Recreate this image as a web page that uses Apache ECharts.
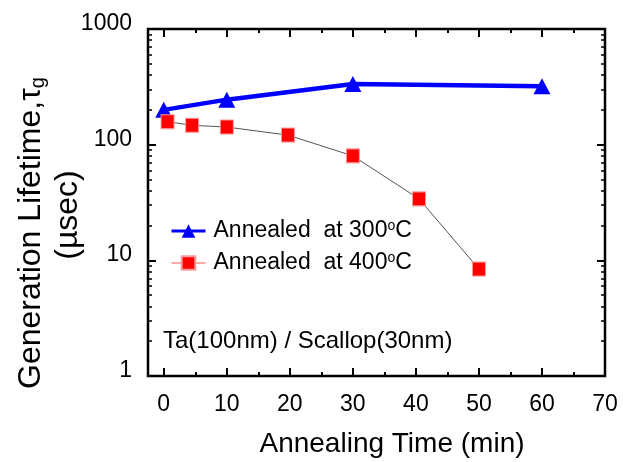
<!DOCTYPE html>
<html>
<head>
<meta charset="utf-8">
<title>Generation lifetime vs annealing time</title>
<script src="https://cdn.jsdelivr.net/npm/echarts@6/dist/echarts.min.js"></script>
<style>
  html, body { margin: 0; padding: 0; background: #fff; }
  #chart { width: 623px; height: 462px; }
</style>
</head>
<body>
<div id="chart"></div>
<script>
// Annealing time (min) and generation lifetime (µsec) for each anneal temperature
const time300 = [0, 10, 30, 60];
const life300 = [200, 245, 335, 320];
const time400 = [0.6, 4.5, 10, 19.7, 30, 40.5, 50];
const life400 = [158, 147, 142, 121, 80, 34, 8.4];

const seriesNames = ['Annealed at 300°C', 'Annealed at 400°C'];

// Axis ticks
const xMajorTicks = [0, 10, 20, 30, 40, 50, 60, 70];
const xMinorTicks = [5, 15, 25, 35, 45, 55, 65];
const yMinorTicks = [2, 3, 4, 5, 6, 7, 8, 9, 20, 30, 40, 50, 60, 70, 80, 90, 200, 300, 400, 500, 600, 700, 800, 900];

const FONT = '"Liberation Sans", Arial, Helvetica, sans-serif';
const X_MIN = -2.5, X_MAX = 70;

const pairs = (xs, ys) => xs.map((x, i) => [x, ys[i]]);
// minor ticks on the log axis are placed on a companion linear axis spanning log10(1..1000)
const logMinor = yMinorTicks.map(v => Math.log10(v));

function xTickAxis(position, values, len, withLabels) {
  return {
    type: 'value', position, min: X_MIN, max: X_MAX,
    axisLine: { show: false, onZero: false },
    splitLine: { show: false },
    axisTick: { show: true, inside: true, length: len, customValues: values,
                lineStyle: { color: '#000', width: 2 } },
    axisLabel: withLabels
      ? { show: true, customValues: values, margin: 17, fontSize: 23, fontFamily: FONT, color: '#000' }
      : { show: false }
  };
}

function yMinorAxis(position) {
  return {
    type: 'value', position, min: 0, max: 3,
    axisLine: { show: false, onZero: false },
    splitLine: { show: false },
    axisLabel: { show: false },
    axisTick: { show: true, inside: true, length: 4, customValues: logMinor,
                lineStyle: { color: '#000', width: 1.5 } }
  };
}

const chart = echarts.init(document.getElementById('chart'), null, { renderer: 'canvas' });

chart.setOption({
  animation: false,
  backgroundColor: '#fff',
  grid: {
    left: 148, right: 18, top: 29, bottom: 86,
    show: true, borderColor: '#000', borderWidth: 2.5, backgroundColor: 'transparent'
  },
  xAxis: [
    xTickAxis('bottom', xMajorTicks, 8, true),
    xTickAxis('bottom', xMinorTicks, 4, false),
    xTickAxis('top', xMajorTicks, 8, false),
    xTickAxis('top', xMinorTicks, 4, false)
  ],
  yAxis: [
    {
      type: 'log', logBase: 10, min: 1, max: 1000, position: 'left',
      axisLine: { show: false, onZero: false },
      splitLine: { show: false },
      axisTick: { show: true, inside: true, length: 8, lineStyle: { color: '#000', width: 2 } },
      axisLabel: {
        show: true, margin: 16, fontSize: 23, fontFamily: FONT, color: '#000',
        verticalAlign: 'bottom', lineHeight: 11,
        formatter: v => String(Math.round(v))
      }
    },
    {
      type: 'log', logBase: 10, min: 1, max: 1000, position: 'right',
      axisLine: { show: false, onZero: false },
      splitLine: { show: false },
      axisLabel: { show: false },
      axisTick: { show: true, inside: true, length: 8, lineStyle: { color: '#000', width: 2 } }
    },
    yMinorAxis('left'),
    yMinorAxis('right')
  ],
  legend: {
    orient: 'vertical',
    left: 170, top: 219, padding: 0,
    itemWidth: 34, itemHeight: 17, itemGap: 8,
    selectedMode: false,
    data: [
      { name: seriesNames[0], lineStyle: { color: '#0000ff', width: 3 } },
      { name: seriesNames[1], lineStyle: { color: '#ff8c8c', width: 1.5 } }
    ],
    formatter: name => name.replace(' at ', '  at ').replace('°', '{sup|o}'),
    textStyle: {
      fontSize: 23, fontFamily: FONT, color: '#000', lineHeight: 24,
      padding: [0, 0, 0, 3],
      rich: {
        sup: { fontSize: 14, fontFamily: FONT, color: '#000', verticalAlign: 'top', lineHeight: 14 }
      }
    }
  },
  series: [
    {
      name: seriesNames[0], type: 'line', xAxisIndex: 0, yAxisIndex: 0,
      data: pairs(time300, life300),
      symbol: 'triangle', symbolSize: [17, 16],
      lineStyle: { color: '#0000ff', width: 4.5 },
      itemStyle: { color: '#0000ff' },
      z: 2
    },
    {
      name: seriesNames[1], type: 'line', xAxisIndex: 0, yAxisIndex: 0,
      data: pairs(time400, life400),
      symbol: 'rect', symbolSize: [13, 14],
      lineStyle: { color: '#555', width: 1 },
      itemStyle: { color: '#ff0000', borderColor: '#ff9a9a', borderWidth: 1 },
      z: 3
    }
  ],
  graphic: [
    {
      type: 'text', x: 31, y: 233, rotation: Math.PI / 2,
      style: {
        text: 'Generation Lifetime,{tau|τ}{sub|g}',
        fontSize: 32, fontFamily: FONT, fill: '#000',
        align: 'center', verticalAlign: 'middle', lineHeight: 34,
        rich: {
          tau: { fontSize: 32, fontFamily: FONT, fill: '#000', lineHeight: 34 },
          sub: { fontSize: 20, fontFamily: FONT, fill: '#000', verticalAlign: 'bottom', lineHeight: 20 }
        }
      }
    },
    {
      type: 'text', x: 68, y: 215, rotation: Math.PI / 2,
      style: {
        text: '(µsec)', fontSize: 32, fontFamily: FONT, fill: '#000',
        align: 'center', verticalAlign: 'middle'
      }
    },
    {
      type: 'text', x: 392, y: 444,
      style: {
        text: 'Annealing Time (min)', fontSize: 28, fontFamily: FONT, fill: '#000',
        align: 'center', verticalAlign: 'middle'
      }
    },
    {
      type: 'text', x: 163, y: 341,
      style: {
        text: 'Ta(100nm) / Scallop(30nm)', fontSize: 24, fontFamily: FONT, fill: '#000',
        align: 'left', verticalAlign: 'middle'
      }
    }
  ]
});
</script>
</body>
</html>
